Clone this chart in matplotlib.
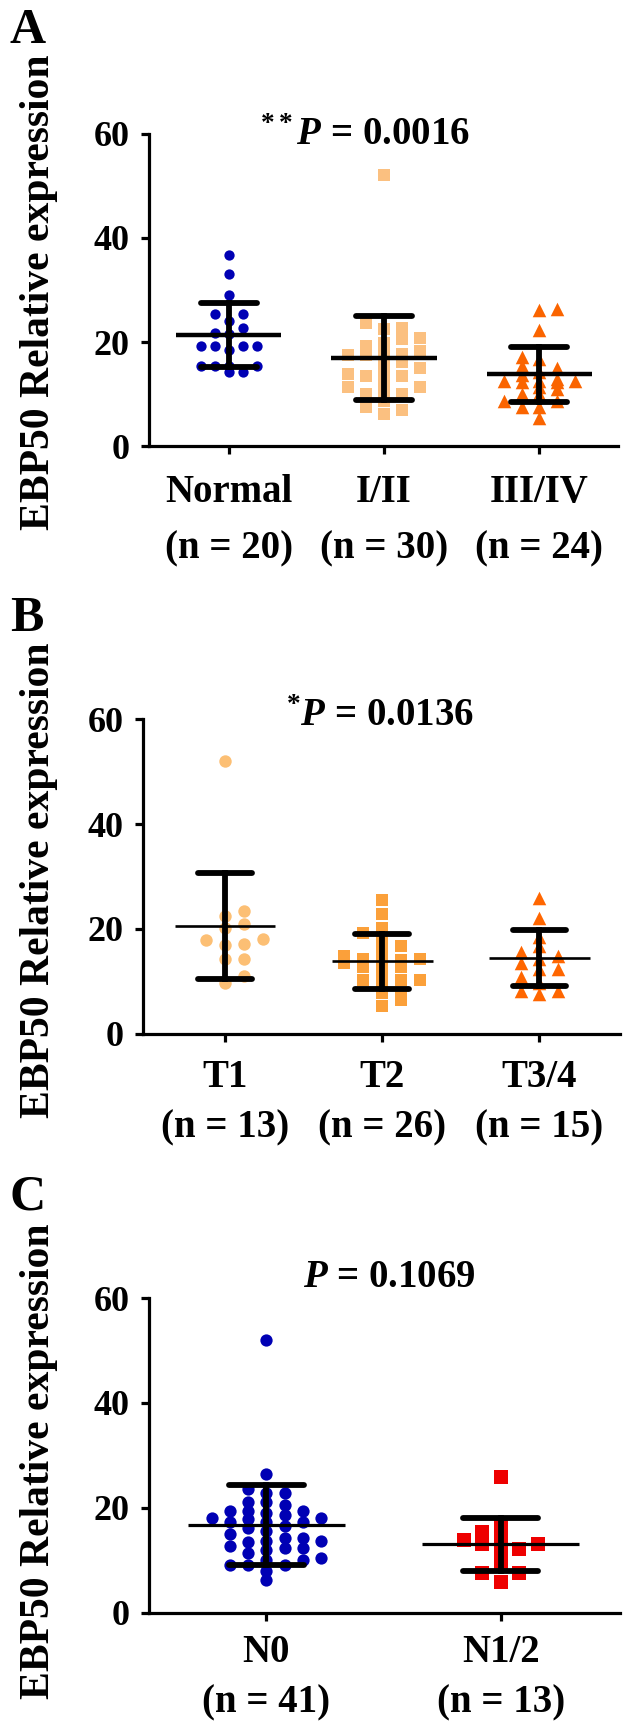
import numpy as np
import matplotlib
matplotlib.use("Agg")
import matplotlib.pyplot as plt

plt.rcParams['font.family'] = ['Liberation Serif', 'DejaVu Serif']
plt.rcParams['font.weight'] = 'bold'
plt.rcParams['mathtext.fontset'] = 'custom'
plt.rcParams['mathtext.rm'] = 'Liberation Serif:bold'
plt.rcParams['mathtext.it'] = 'Liberation Serif:italic:bold'
plt.rcParams['mathtext.bf'] = 'Liberation Serif:bold'

# ---- data ----
# panel A: clinical stage
stage_labels = ['Normal\n(n = 20)', 'I/II\n(n = 30)', 'III/IV\n(n = 24)']
stage_normal = [36.8, 33.0, 29.1, 25.4, 25.4, 24.0, 22.7, 21.8, 21.5, 19.3, 19.3,
                19.3, 19.3, 18.4, 15.4, 15.4, 15.4, 15.4, 14.2, 14.2]
stage_12 = [52.1, 23.6, 22.7, 22.5, 20.7, 20.6, 19.8, 19.3, 18.2, 18.2, 17.8, 17.5,
            17.5, 16.8, 16.2, 15.0, 14.6, 13.9, 13.4, 13.4, 12.8, 11.4, 11.4, 11.0,
            10.0, 10.0, 8.6, 7.5, 7.0, 6.1]
stage_34 = [26.3, 26.1, 22.3, 17.1, 16.8, 15.4, 15.0, 14.3, 13.6, 13.0, 12.6, 12.5,
            12.4, 12.5, 12.3, 11.4, 11.0, 10.0, 10.0, 8.6, 8.6, 7.5, 7.5, 5.4]
stage_mean = [21.4, 17.0, 13.8]
stage_sd = [6.2, 8.1, 5.3]
stage_p = r'$^{**}P$ = 0.0016'

# panel B: T stage
t_labels = ['T1\n(n = 13)', 'T2\n(n = 26)', 'T3/4\n(n = 15)']
t1 = [52.0, 23.4, 22.4, 21.0, 20.2, 18.1, 17.8, 17.2, 17.0, 14.3, 14.2, 11.0, 9.6]
t2 = [25.6, 22.9, 20.2, 19.2, 18.8, 17.4, 16.7, 16.0, 14.9, 14.3, 14.2, 14.2, 14.1,
      13.5, 12.9, 12.8, 12.7, 11.7, 10.3, 10.3, 10.2, 9.6, 7.8, 7.8, 6.4, 5.3]
t34 = [25.9, 22.0, 18.5, 16.7, 15.6, 14.9, 14.2, 13.5, 12.4, 12.4, 10.8, 9.6, 8.2,
       8.2, 7.5]
t_mean = [20.5, 13.8, 14.4]
t_sd = [10.1, 5.2, 5.3]
t_p = r'$^{*}P$ = 0.0136'

# panel C: N stage
n_labels = ['N0\n(n = 41)', 'N1/2\n(n = 13)']
n0 = [52.0, 26.4, 23.6, 22.9, 22.9, 21.1, 21.1, 20.5, 19.4, 19.4, 19.4, 19.1, 18.7,
      18.0, 18.0, 17.8, 17.3, 17.3, 17.3, 16.6, 16.2, 15.6, 15.0, 14.2, 14.2, 13.7,
      13.7, 13.5, 12.8, 12.3, 12.3, 12.0, 11.4, 10.5, 10.1, 10.1, 9.0, 9.0, 9.0, 8.0,
      6.2]
n12 = [25.9, 17.0, 15.3, 14.6, 13.9, 13.0, 13.0, 12.1, 12.1, 9.7, 7.6, 7.6, 5.9]
n_mean = [16.7, 13.0]
n_sd = [7.6, 5.0]
n_p = r'$P$ = 0.1069'


def spread(vals, step, dh, maxc):
    # simple beeswarm on fixed columns: each point takes the column nearest the
    # centre where it does not sit on top of an already placed point;
    # if every column is busy, take the one with the most room
    vals = np.asarray(vals)
    offs = np.zeros(len(vals))
    placed = {}
    for n, i in enumerate(np.argsort(vals)):
        side = 1 if n % 2 else -1
        cands = [0]
        for j in range(1, maxc + 1):
            cands += [side * j, -side * j]
        gaps = [min([abs(vals[i] - v) for v in placed.get(c, [])] + [99])
                for c in cands]
        free = [c for c, g in zip(cands, gaps) if g >= dh]
        c = free[0] if free else cands[int(np.argmax(gaps))]
        placed.setdefault(c, []).append(vals[i])
        offs[i] = c * step
    return offs


def panel(rect, xlim, groups, labels, means, sds, ptext, ptxt_xy, letter, letter_y,
          ylab_y, mean_w, mean_lw, cap_w, lsp, xpad):
    ax = fig.add_axes(rect)
    for k, (vals, marker, size, color, step, dh, maxc) in enumerate(groups):
        ax.scatter(k + spread(vals, step, dh, maxc), vals, marker=marker, s=size,
                   color=color, linewidths=0, zorder=2)
        m, sd = means[k], sds[k]
        ax.plot([k - mean_w, k + mean_w], [m, m], color='black', lw=mean_lw,
                solid_capstyle='butt', zorder=3)
        ax.plot([k, k], [m - sd, m + sd], color='black', lw=4.2, zorder=3)
        for yy in (m - sd, m + sd):
            ax.plot([k - cap_w, k + cap_w], [yy, yy], color='black', lw=4.2,
                    solid_capstyle='round', zorder=3)
    ax.set_xlim(*xlim)
    ax.set_ylim(0, 60)
    ax.set_yticks([0, 20, 40, 60])
    ax.set_xticks(range(len(labels)))
    ax.set_xticklabels(labels, linespacing=lsp)
    for s in ('top', 'right'):
        ax.spines[s].set_visible(False)
    for s in ('left', 'bottom'):
        ax.spines[s].set_linewidth(2.3)
    ax.tick_params(axis='both', direction='out', length=6, width=2.3)
    ax.tick_params(axis='y', labelsize=26, pad=8)
    ax.tick_params(axis='x', labelsize=28, pad=xpad)
    ax.text(ptxt_xy[0], ptxt_xy[1], ptext, transform=ax.transAxes, ha='center',
            va='baseline', fontsize=28, fontweight='bold')
    fig.text(10 / 630, letter_y, letter, ha='left', va='top', fontsize=36,
             fontweight='bold')
    fig.text(39 / 630, ylab_y, 'EBP50 Relative expression', rotation=90, ha='center',
             va='center', fontsize=30, fontweight='bold')
    return ax


fig = plt.figure(figsize=(6.3, 17.27), dpi=100)

panel([0.2371, 0.7416, 0.7438, 0.1809], (-0.51, 2.506),
      [(stage_normal, 'o', 55, '#0000b4', 0.09, 1.8, 2),
       (stage_12, 's', 80, '#fbc080', 0.115, 1.6, 2),
       (stage_34, '^', 95, '#fa6400', 0.114, 1.3, 2)],
      stage_labels, stage_mean, stage_sd, stage_p, (0.461, 0.964),
      'A', 1 - 8 / 1727, 1 - 292 / 1727, 0.34, 3.2, 0.18, 1.7, 14)

panel([0.2270, 0.4015, 0.7571, 0.1819], (-0.521, 2.512),
      [(t1, 'o', 80, '#fcbf74', 0.12, 2.0, 2),
       (t2, 's', 85, '#fba03a', 0.12, 1.2, 2),
       (t34, '^', 95, '#ff6600', 0.12, 1.6, 2)],
      t_labels, t_mean, t_sd, t_p, (0.497, 0.98),
      'B', 1 - 596 / 1727, 1 - 880 / 1727, 0.32, 1.9, 0.17, 1.5, 12)

panel([0.2371, 0.0662, 0.7470, 0.1822], (-0.5, 1.509),
      [(n0, 'o', 78, '#0000b4', 0.078, 1.6, 3),
       (n12, 's', 95, '#ee0000', 0.079, 2.0, 2)],
      n_labels, n_mean, n_sd, n_p, (0.511, 1.035),
      'C', 1 - 1174 / 1727, 1 - 1461 / 1727, 0.335, 2.3, 0.16, 1.5, 9)

fig.savefig('out.png', dpi=100)
